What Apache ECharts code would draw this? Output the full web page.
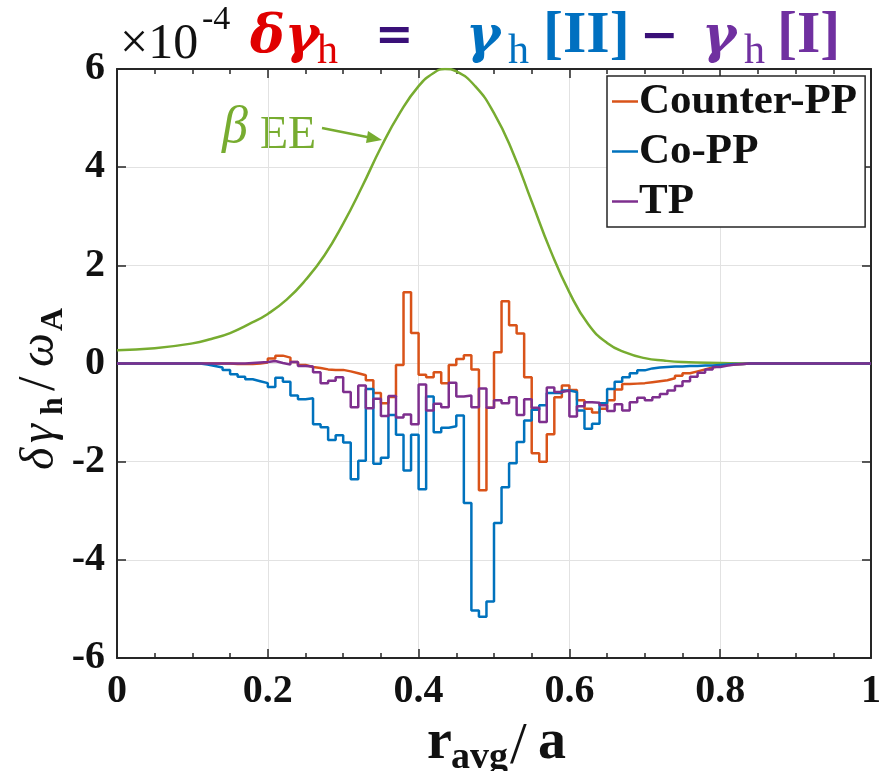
<!DOCTYPE html>
<html><head><meta charset="utf-8">
<script src="https://cdn.jsdelivr.net/npm/echarts@6/dist/echarts.min.js"></script>
<style>html,body{margin:0;padding:0;background:#fff}#c{width:884px;height:771px}</style>
</head><body><div id="c"></div>
<script>
// bin edges r_avg/a (100 bins of width 0.01)
const binEdges = Array.from({length: 101}, (_, i) => +(i / 100).toFixed(2));

const counterPP = [
  0,0,0,0,0,0,0,0,0,0,
  0,0,0,0,0,-0.01,-0.01,-0.01,0,0.02,
  0.10,0.16,0.12,0.03,-0.03,-0.07,-0.09,-0.12,-0.13,-0.13,
  -0.16,-0.20,-0.24,-0.34,-0.60,-0.81,-0.68,-0.03,1.45,0.62,
  -0.23,-0.28,-0.18,-0.40,-0.03,0.09,0.17,-0.12,-2.58,-0.90,
  0.23,1.27,0.78,0.61,-0.28,-1.83,-2.00,-1.44,-0.69,-0.45,
  -0.54,-0.75,-0.92,-1.00,-0.92,-0.75,-0.53,-0.42,-0.41,-0.40,
  -0.38,-0.36,-0.34,-0.30,-0.25,-0.20,-0.16,-0.12,-0.08,-0.05,
  -0.03,-0.02,-0.01,0,0,0,0,0,0,0,
  0,0,0,0,0,0,0,0,0,0
];
const coPP = [
  0,0,0,0,0,0,0,0,0,0,
  0,-0.02,-0.05,-0.08,-0.13,-0.22,-0.27,-0.32,-0.36,-0.40,
  -0.48,-0.29,-0.37,-0.65,-0.73,-0.71,-1.24,-1.30,-1.56,-1.46,
  -1.61,-2.36,-1.98,-0.52,-2.04,-1.92,-1.05,-1.45,-2.18,-1.45,
  -2.56,-0.67,-1.40,-1.31,-1.28,-1.06,-2.84,-5.03,-5.16,-4.85,
  -3.25,-2.52,-2.03,-1.60,-1.16,-0.94,-0.85,-0.60,-0.60,-0.55,
  -0.58,-0.96,-1.33,-1.23,-0.81,-0.52,-0.37,-0.28,-0.20,-0.14,
  -0.10,-0.08,-0.07,-0.06,-0.06,-0.05,-0.05,-0.04,-0.04,-0.03,
  -0.02,-0.01,-0.01,0,0,0,0,0,0,0,
  0,0,0,0,0,0,0,0,0,0
];
const tp = [
  0,0,0,0,0,0,0,0,0,0,
  0,0,0,0,0,0,0,0.01,0.02,0.03,
  0.05,0.01,-0.02,0.03,-0.05,-0.06,-0.18,-0.40,-0.35,-0.28,
  -0.58,-0.89,-0.45,-0.91,-0.72,-1.07,-0.66,-1.10,-1.04,-1.24,
  -0.43,-0.96,-0.82,-0.89,-0.39,-0.67,-0.65,-0.89,-0.51,-0.90,
  -0.75,-0.81,-0.69,-1.05,-0.73,-0.90,-1.19,-0.49,-0.58,-0.55,
  -1.08,-0.87,-0.79,-0.80,-0.85,-0.97,-0.83,-0.96,-0.79,-0.70,
  -0.75,-0.69,-0.62,-0.55,-0.46,-0.36,-0.27,-0.19,-0.12,-0.07,
  -0.04,-0.02,-0.01,0,0,0,0,0,0,0,
  0,0,0,0,0,0,0,0,0,0
];
// beta_EE profile (green)
const betaR = [0,0.05,0.1,0.125,0.15,0.175,0.2,0.225,0.25,0.275,0.3,0.325,0.35,0.375,0.4,0.42,0.435,0.45,0.475,0.5,0.525,0.55,0.575,0.6,0.625,0.65,0.675,0.7,0.725,0.75,0.8,0.85,0.9,1.0];
const betaV = [0.27,0.31,0.41,0.50,0.62,0.80,1.01,1.30,1.70,2.20,2.85,3.60,4.40,5.10,5.65,5.92,6.00,5.95,5.65,5.10,4.30,3.30,2.30,1.45,0.80,0.42,0.22,0.11,0.06,0.03,0.01,0,0,0];

const xTickVals = [0,0.2,0.4,0.6,0.8,1];
const xTickLabels = ['0','0.2','0.4','0.6','0.8','1'];
const yTickVals = [-6,-4,-2,0,2,4,6];
const yTickLabels = ['-6','-4','-2','0','2','4','6'];

const names = ['Counter-PP','Co-PP','TP'];
const colors = {orange:'#D95319', blue:'#0072BD', purple:'#7E2F8E', green:'#77AC30'};

function steps(vals){
  const d = vals.map((v,i)=>[binEdges[i], v]);
  d.push([binEdges[vals.length], vals[vals.length-1]]);
  return d;
}
function lbl(vals, labels){
  return v => { const i = vals.findIndex(t => Math.abs(t - v) < 1e-9); return i >= 0 ? labels[i] : ''; };
}
const AX = '#262626';
const tickFont = {fontFamily:'Liberation Serif', fontWeight:'bold', fontSize:40, color:'#111'};
function xA(pos, showLabel){
  return {type:'value', min:0, max:1, interval:0.2, position:pos,
    axisLine:{show:true, onZero:false, lineStyle:{color:AX, width:2}},
    axisTick:{show:true, inside:true, length:9, lineStyle:{color:AX, width:1.5}},
    minorTick:{show:true, splitNumber:4, length:5, lineStyle:{color:AX, width:1.5}},
    axisLabel:Object.assign({show:showLabel, margin:14, formatter:lbl(xTickVals,xTickLabels)}, tickFont),
    splitLine:{show:showLabel, lineStyle:{color:'#e2e2e2', width:1}}};
}
function yA(pos, showLabel){
  return {type:'value', min:-6, max:6, interval:2, position:pos,
    axisLine:{show:true, onZero:false, lineStyle:{color:AX, width:2}},
    axisTick:{show:true, inside:true, length:9, lineStyle:{color:AX, width:1.5}},
    axisLabel:Object.assign({show:showLabel, margin:12, formatter:lbl(yTickVals,yTickLabels)}, tickFont),
    splitLine:{show:showLabel, lineStyle:{color:'#e2e2e2', width:1}}};
}
function stepSeries(name, vals, color){
  return {name, type:'line', step:'end', data:steps(vals), symbol:'none', showSymbol:false,
    lineStyle:{color, width:2.5}, itemStyle:{color}, xAxisIndex:0, yAxisIndex:0, animation:false};
}
function txt(x, y, text, font, fill, align){
  return {type:'text', x, y, style:{text, font, fill, align:align||'left', verticalAlign:'middle'}};
}
const SERIF = '"Liberation Serif", serif';
const DSERIF = '"DejaVu Serif", serif';
const red = '#E00000', indigo = '#3A1078', tBlue = '#0070C0', tPurple = '#7030A0';

const chart = echarts.init(document.getElementById('c'), null, {renderer:'canvas'});
chart.setOption({
  animation:false,
  backgroundColor:'#fff',
  grid:{left:117, right:12, top:69, bottom:113, containLabel:false},
  xAxis:[xA('bottom', true), xA('top', false)],
  yAxis:[yA('left', true), yA('right', false)],
  legend:{data:names, orient:'vertical', left:607, top:76, padding:[4,8,4,5], itemGap:7,
    icon:'rect', itemWidth:26, itemHeight:2.5, selectedMode:false, backgroundColor:'#fff',
    borderColor:AX, borderWidth:1.5, borderRadius:0,
    textStyle:{fontFamily:'Liberation Serif', fontWeight:'bold', fontSize:43, color:'#111', lineHeight:42, padding:[0,0,0,-4]}},
  series:[
    {name:'betaEE', type:'line', smooth:true, data:betaR.map((r,i)=>[r, betaV[i]]), symbol:'none', showSymbol:false,
      lineStyle:{color:colors.green, width:2.5}, animation:false},
    stepSeries(names[0], counterPP, colors.orange),
    stepSeries(names[1], coPP, colors.blue),
    stepSeries(names[2], tp, colors.purple)
  ],
  graphic:[
    // exponent
    txt(120, 45, '\u00D710', '50px ' + SERIF, '#111'),
    txt(202, 20, '-4', '34px ' + SERIF, '#111'),
    // title
    txt(250, 38, '\u03B4\u03B3', 'italic bold 52px ' + DSERIF, red),
    txt(317, 52, 'h', '42px ' + SERIF, red),
    txt(375, 38, '=', 'bold 46px ' + DSERIF, indigo),
    txt(466, 38, '\u03B3', 'italic bold 52px ' + DSERIF, tBlue),
    txt(508, 52, 'h', '42px ' + SERIF, tBlue),
    txt(543, 36, '[II]', 'bold 60px ' + SERIF, tBlue),
    txt(640, 38, '\u2212', 'bold 46px ' + DSERIF, indigo),
    txt(702, 38, '\u03B3', 'italic bold 52px ' + DSERIF, tPurple),
    txt(744, 52, 'h', '42px ' + SERIF, tPurple),
    txt(777, 36, '[I]', 'bold 60px ' + SERIF, tPurple),
    // beta_EE annotation
    txt(222, 128, '\u03B2', 'italic 52px ' + SERIF, colors.green),
    txt(260, 136, 'EE', '46px ' + SERIF, colors.green),
    {type:'line', shape:{x1:322, y1:128, x2:372, y2:138}, style:{stroke:colors.green, lineWidth:2.5}},
    {type:'polygon', shape:{points:[[382,140],[368,131],[366,143]]}, style:{fill:colors.green}},
    // x axis title
    txt(427, 744, 'r', 'bold 56px ' + SERIF, '#111'),
    txt(451, 758, 'avg', 'bold 38px ' + SERIF, '#111'),
    txt(510, 747, '/', '60px ' + SERIF, '#111'),
    txt(538, 744, 'a', 'bold 56px ' + SERIF, '#111'),
    // y axis title (rotated)
    {type:'group', x:40, y:359, rotation:Math.PI/2, children:[
      {type:'text', x:-111, y:0, style:{text:'\u03B4', font:'italic 48px ' + SERIF, fill:'#111', verticalAlign:'middle'}},
      {type:'text', x:-84, y:0, style:{text:'\u03B3', font:'italic 48px ' + SERIF, fill:'#111', verticalAlign:'middle'}},
      {type:'text', x:-56, y:14, style:{text:'h', font:'bold 32px ' + SERIF, fill:'#111', verticalAlign:'middle'}},
      {type:'text', x:-32, y:0, style:{text:'/', font:'52px ' + SERIF, fill:'#111', verticalAlign:'middle'}},
      {type:'text', x:-8, y:0, style:{text:'\u03C9', font:'italic 48px ' + SERIF, fill:'#111', verticalAlign:'middle'}},
      {type:'text', x:28, y:14, style:{text:'A', font:'bold 32px ' + SERIF, fill:'#111', verticalAlign:'middle'}}
    ]}
  ]
});
</script></body></html>
